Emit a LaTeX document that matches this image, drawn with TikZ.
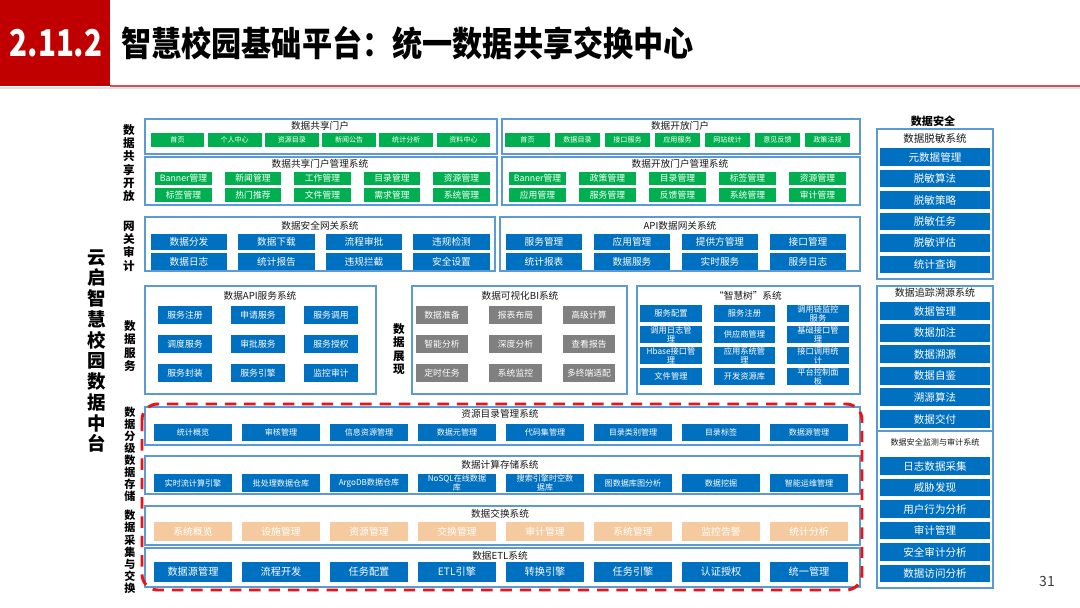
\documentclass[tikz,border=0pt]{standalone}
\usepackage{fontspec}
\usepackage{graphicx}
\setmainfont{Noto Sans CJK SC}
\definecolor{hdrred}{RGB}{192,0,0}
\definecolor{hdrline}{RGB}{210,80,80}
\definecolor{frameblue}{RGB}{91,155,213}
\definecolor{btnblue}{RGB}{0,112,192}
\definecolor{btngreen}{RGB}{0,176,80}
\definecolor{btngray}{RGB}{128,128,128}
\definecolor{btntan}{RGB}{245,202,158}
\definecolor{dashred}{RGB}{232,20,25}

\begin{document}
\begin{tikzpicture}[x=0.02cm,y=-0.02cm,
  secbox/.style={draw=frameblue,line width=0.4pt,double=white,double distance=0.6pt},
  subbox/.style={draw=frameblue,line width=0.7pt},
  btn/.style={inner sep=0pt,align=center,text=white},
  bluebtn/.style={btn,fill=btnblue},
  greenbtn/.style={btn,fill=btngreen},
  graybtn/.style={btn,fill=btngray},
  tanbtn/.style={btn,fill=btntan},
  portalbtn/.style={greenbtn,minimum height=0.28cm,font=\fontsize{4}{4}\selectfont},
  mgbtn/.style={greenbtn,minimum width=1.14cm,minimum height=0.28cm,font=\fontsize{5}{5}\selectfont},
  gwbtn/.style={bluebtn,minimum height=0.33cm,font=\fontsize{5.5}{5.5}\selectfont},
  rowbtn/.style={minimum width=1.58cm,font=\fontsize{4.6}{5}\selectfont},
  sidebtn/.style={bluebtn,minimum width=2.2cm,minimum height=0.36cm,font=\fontsize{6}{6}\selectfont},
  subtitle/.style={inner sep=0pt,text=black!90,font=\fontsize{5.5}{5.5}\selectfont},
  seclabel/.style={inner sep=0pt,align=center,font=\fontsize{6.6}{7.6}\selectfont\bfseries},
  lowlabel/.style={inner sep=0pt,align=center,font=\fontsize{6.3}{6.9}\selectfont\bfseries},
]
\useasboundingbox (0,0) rectangle (1080,608);
\fill[white] (0,0) rectangle (1080,608);

% header
\fill[hdrred] (0,0) rectangle (110,86);
\draw[black!12,line width=1.2pt] (0,88) -- (1080,88);
\draw[hdrline,line width=0.6pt] (110,86) -- (1080,86);
\node[text=white,font=\fontsize{21}{21}\selectfont\bfseries] (secno) at (56,43) {\scalebox{0.8}[1]{2.11.2}};
\node[anchor=west,font=\fontsize{19.5}{19.5}\selectfont\bfseries] (title) at (115,43) {\scalebox{0.88}[1]{智慧校园基础平台：统一数据共享交换中心}};

% frames
\draw[secbox] (78,107) rectangle (866,593);
\draw[secbox] (113,114) rectangle (864,208);
\draw[subbox] (145,119) rectangle (497,154);
\draw[subbox] (502,119) rectangle (860,154);
\draw[subbox] (145,157) rectangle (497,205);
\draw[subbox] (502,157) rectangle (860,205);
\draw[secbox] (113,212) rectangle (864,275);
\draw[subbox] (145,217) rectangle (495,271);
\draw[subbox] (500,217) rectangle (860,271);
\draw[secbox] (113,281) rectangle (380,398);
\draw[secbox] (383,281) rectangle (630,398);
\draw[secbox] (633,281) rectangle (864,398);
\draw[subbox] (145,286) rectangle (376,394);
\draw[subbox] (412,286) rectangle (627,394);
\draw[subbox] (637,286) rectangle (860,394);
\draw[secbox] (113,402) rectangle (864,449);
\draw[subbox] (145,407) rectangle (860,445);
\draw[secbox] (113,452) rectangle (864,497);
\draw[subbox] (145,456) rectangle (860,494);
\draw[secbox] (113,501) rectangle (864,591);
\draw[subbox] (145,506) rectangle (860,545);
\draw[subbox] (145,548) rectangle (860,587);
\draw[secbox] (870,107) rectangle (999,593);
\draw[subbox] (877,129) rectangle (993,279);
\draw[subbox] (877,286) rectangle (993,431);
\draw[subbox] (877,431) rectangle (993,588);

% labels
\node[inner sep=0pt,align=center,font=\fontsize{10.5}{11.8}\selectfont\bfseries] (mainlabel) at (97,351) {云\\启\\智\\慧\\校\\园\\数\\据\\中\\台};
\node[seclabel] (lshare) at (129,163) {数\\据\\共\\享\\开\\放};
\node[seclabel] (lgate) at (129,246) {网\\关\\审\\计};
\node[seclabel] (lserv) at (130,346) {数\\据\\服\\务};
\node[seclabel] (lshow) at (399,349) {数\\据\\展\\现};
\node[lowlabel] (lgrade) at (130,430) {数\\据\\分\\级};
\node[lowlabel] (lstore) at (130,478) {数\\据\\存\\储};
\node[lowlabel] (lexch) at (130,552) {数\\据\\采\\集\\与\\交\\换};

% data sharing portal
\node[subtitle] (shptitle) at (320,126) {数据共享门户};
\foreach \t [count=\i] in {首页,个人中心,资源目录,新闻公告,统计分析,资料中心}
  \node[portalbtn,minimum width=1.08cm] (shp\i) at ({177.5+(\i-1)*57.2},140) {\t};
\node[subtitle] (shmtitle) at (320,164) {数据共享门户管理系统};
\foreach \t [count=\i] in {Banner管理,新闻管理,工作管理,目录管理,资源管理}
  \node[mgbtn] (shma\i) at ({183.5+(\i-1)*69.5},178.5) {\t};
\foreach \t [count=\i] in {标签管理,热门推荐,文件管理,需求管理,系统管理}
  \node[mgbtn] (shmb\i) at ({183.5+(\i-1)*69.5},195) {\t};

% data open portal
\node[subtitle] (optitle) at (680,126) {数据开放门户};
\foreach \t [count=\i] in {首页,数据目录,接口服务,应用服务,网站统计,意见反馈,政策法规}
  \node[portalbtn,minimum width=0.9cm] (opp\i) at ({527.5+(\i-1)*50},140) {\t};
\node[subtitle] (opmtitle) at (680,164) {数据开放门户管理系统};
\foreach \t [count=\i] in {Banner管理,政策管理,目录管理,标签管理,资源管理}
  \node[mgbtn] (opma\i) at ({537.5+(\i-1)*70},178.5) {\t};
\foreach \t [count=\i] in {应用管理,服务管理,反馈管理,系统管理,审计管理}
  \node[mgbtn] (opmb\i) at ({537.5+(\i-1)*70},195) {\t};

% gateways
\node[subtitle] (sgwtitle) at (320,226) {数据安全网关系统};
\foreach \t [count=\i] in {数据分发,数据下载,流程审批,违规检测}
  \node[gwbtn,minimum width=1.54cm] (sga\i) at ({189+(\i-1)*87.5},242) {\t};
\foreach \t [count=\i] in {数据日志,统计报告,违规拦截,安全设置}
  \node[gwbtn,minimum width=1.54cm] (sgb\i) at ({189+(\i-1)*87.5},261.5) {\t};
\node[subtitle] (agwtitle) at (680,226) {API数据网关系统};
\foreach \t [count=\i] in {服务管理,应用管理,提供方管理,接口管理}
  \node[gwbtn,minimum width=1.52cm] (aga\i) at ({544+(\i-1)*88},242) {\t};
\foreach \t [count=\i] in {统计报表,数据服务,实时服务,服务日志}
  \node[gwbtn,minimum width=1.52cm] (agb\i) at ({544+(\i-1)*88},261.5) {\t};

% data services
\node[subtitle] (apititle) at (260,296) {数据API服务系统};
\foreach \t [count=\i from 0] in {服务注册,申请服务,服务调用,调度服务,审批服务,服务授权,服务封装,服务引擎,监控审计} {
  \pgfmathtruncatemacro\gc{mod(\i,3)}
  \pgfmathtruncatemacro\gr{\i/3}
  \node[bluebtn,minimum width=1.1cm,minimum height=0.38cm,font=\fontsize{5}{5}\selectfont] (api\i) at ({185+\gc*73},{315+\gr*29}) {\t};
}
\node[subtitle] (bititle) at (520,296) {数据可视化BI系统};
\foreach \t [count=\i from 0] in {数据准备,报表布局,高级计算,智能分析,深度分析,查看报告,定时任务,系统监控,多终端适配} {
  \pgfmathtruncatemacro\gc{mod(\i,3)}
  \pgfmathtruncatemacro\gr{\i/3}
  \node[graybtn,minimum width=1.06cm,minimum height=0.38cm,font=\fontsize{5}{5}\selectfont] (bi\i) at ({442+\gc*73.5},{315+\gr*29}) {\t};
}
\node[subtitle] (treetitle) at (748,296) {“智慧树”系统};
\foreach \t [count=\i from 0] in {服务配置,服务注册,{调用链监控\\服务},{调用日志管\\理},供应商管理,{基础接口管\\理},{Hbase接口管\\理},{应用系统管\\理},{接口调用统\\计},文件管理,开发资源库,{平台控制面\\板}} {
  \pgfmathtruncatemacro\gc{mod(\i,3)}
  \pgfmathtruncatemacro\gr{\i/3}
  \node[bluebtn,minimum width=1.24cm,minimum height=0.36cm,font=\fontsize{4.7}{5.2}\selectfont] (tree\i) at ({671+\gc*73.5},{313.5+\gr*21}) {\t};
}

% grading, storage, exchange
\node[subtitle] (cattitle) at (500,414) {资源目录管理系统};
\foreach \t [count=\i] in {统计概览,审核管理,信息资源管理,数据元管理,代码集管理,目录类别管理,目录标签,数据源管理}
  \node[bluebtn,rowbtn,minimum height=0.34cm] (cat\i) at ({193+(\i-1)*88},432.5) {\t};
\node[subtitle] (stotitle) at (500,465) {数据计算存储系统};
\foreach \t [count=\i] in {实时流计算引擎,批处理数据仓库,ArgoDB数据仓库,{NoSQL在线数据\\库},{搜索引擎时空数\\据库},图数据库图分析,数据挖掘,智能运维管理}
  \node[bluebtn,rowbtn,minimum height=0.36cm] (sto\i) at ({193+(\i-1)*88},483) {\t};
\node[subtitle] (exctitle) at (500,514) {数据交换系统};
\foreach \t [count=\i] in {系统概览,设施管理,资源管理,交换管理,审计管理,系统管理,监控告警,统计分析}
  \node[tanbtn,rowbtn,minimum height=0.38cm,font=\fontsize{5.6}{5.6}\selectfont] (exc\i) at ({193+(\i-1)*88},531.5) {\t};
\node[subtitle] (etltitle) at (500,556) {数据ETL系统};
\foreach \t [count=\i] in {数据源管理,流程开发,任务配置,ETL引擎,转换引擎,任务引擎,认证授权,统一管理}
  \node[bluebtn,rowbtn,minimum height=0.4cm,font=\fontsize{5.8}{5.8}\selectfont] (etl\i) at ({193+(\i-1)*88},572) {\t};

% data security column
\node[inner sep=0pt,font=\fontsize{6.3}{6.3}\selectfont\bfseries] (sectitle) at (933,121) {数据安全};
\node[subtitle,font=\fontsize{6}{6}\selectfont] (destitle) at (935,138) {数据脱敏系统};
\foreach \t [count=\i] in {元数据管理,脱敏算法,脱敏策略,脱敏任务,脱敏评估,统计查询}
  \node[sidebtn] (des\i) at ({935},{157+(\i-1)*21.5}) {\t};
\node[subtitle,font=\fontsize{5.7}{5.7}\selectfont] (trctitle) at (935,293) {数据追踪溯源系统};
\foreach \t [count=\i] in {数据管理,数据加注,数据溯源,数据自鉴,溯源算法,数据交付}
  \node[sidebtn] (trc\i) at ({935},{311+(\i-1)*21.6}) {\t};
\node[subtitle,font=\fontsize{4.6}{4.6}\selectfont] (audtitle) at (935,442) {数据安全监测与审计系统};
\foreach \t [count=\i] in {日志数据采集,威胁发现,用户行为分析,审计管理,安全审计分析,数据访问分析}
  \node[sidebtn] (aud\i) at ({935},{466+(\i-1)*21.5}) {\t};

% highlight of the lower layers
\draw[dashred,line width=1.7pt,dash pattern=on 6.5pt off 4.5pt,rounded corners=9pt] (142,404) rectangle (862,590);

\node[text=black!75,font=\fontsize{8}{8}\selectfont] (pageno) at (1047,581) {31};
\end{tikzpicture}
\end{document}
